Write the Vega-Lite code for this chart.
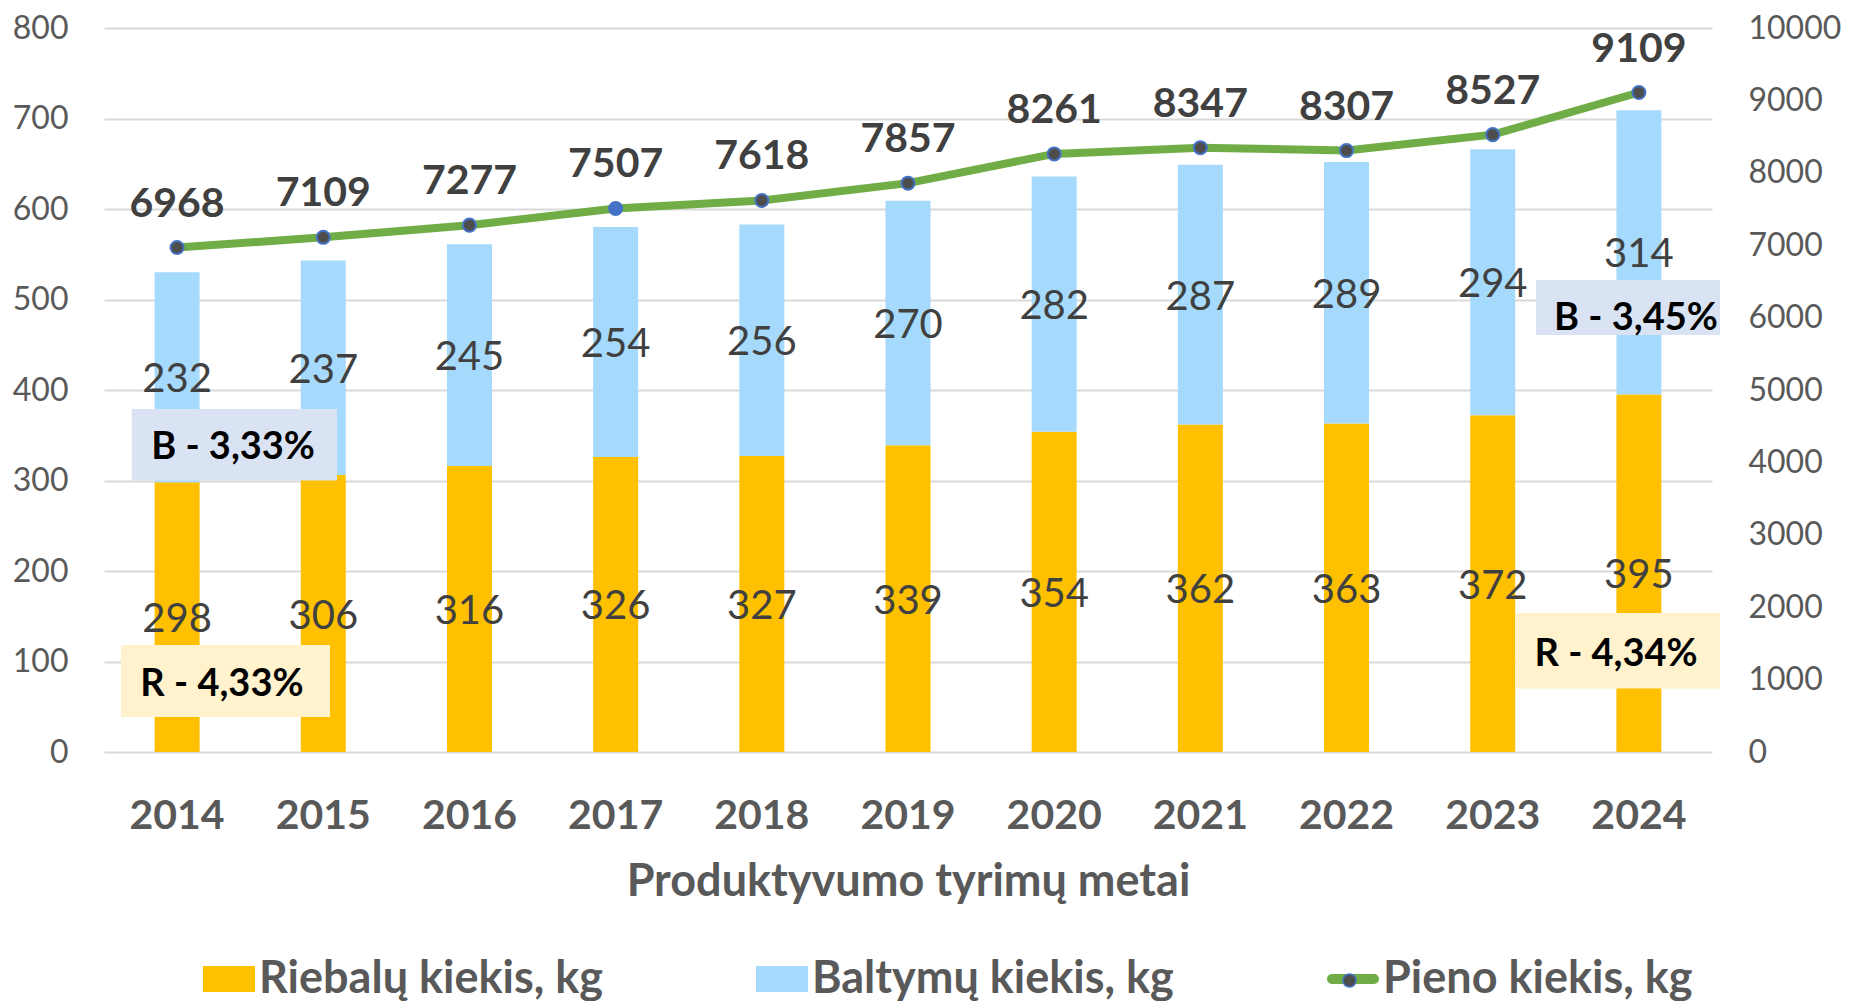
{
  "$schema": "https://vega.github.io/schema/vega-lite/v6.json",
  "width": 1608,
  "height": 724,
  "autosize": {"type": "none"},
  "padding": {"left": 104, "top": 28, "right": 138, "bottom": 249},
  "background": "white",
  "config": {"view": {"stroke": null}, "font": "Lato"},
  "datasets": {
    "parts": [
      {"year": "2014", "series": "Riebalų kiekis, kg", "value": 298},
      {"year": "2014", "series": "Baltymų kiekis, kg", "value": 232},
      {"year": "2015", "series": "Riebalų kiekis, kg", "value": 306},
      {"year": "2015", "series": "Baltymų kiekis, kg", "value": 237},
      {"year": "2016", "series": "Riebalų kiekis, kg", "value": 316},
      {"year": "2016", "series": "Baltymų kiekis, kg", "value": 245},
      {"year": "2017", "series": "Riebalų kiekis, kg", "value": 326},
      {"year": "2017", "series": "Baltymų kiekis, kg", "value": 254},
      {"year": "2018", "series": "Riebalų kiekis, kg", "value": 327},
      {"year": "2018", "series": "Baltymų kiekis, kg", "value": 256},
      {"year": "2019", "series": "Riebalų kiekis, kg", "value": 339},
      {"year": "2019", "series": "Baltymų kiekis, kg", "value": 270},
      {"year": "2020", "series": "Riebalų kiekis, kg", "value": 354},
      {"year": "2020", "series": "Baltymų kiekis, kg", "value": 282},
      {"year": "2021", "series": "Riebalų kiekis, kg", "value": 362},
      {"year": "2021", "series": "Baltymų kiekis, kg", "value": 287},
      {"year": "2022", "series": "Riebalų kiekis, kg", "value": 363},
      {"year": "2022", "series": "Baltymų kiekis, kg", "value": 289},
      {"year": "2023", "series": "Riebalų kiekis, kg", "value": 372},
      {"year": "2023", "series": "Baltymų kiekis, kg", "value": 294},
      {"year": "2024", "series": "Riebalų kiekis, kg", "value": 395},
      {"year": "2024", "series": "Baltymų kiekis, kg", "value": 314}
    ],
    "milk": [
      {"year": "2014", "value": 6968},
      {"year": "2015", "value": 7109},
      {"year": "2016", "value": 7277},
      {"year": "2017", "value": 7507},
      {"year": "2018", "value": 7618},
      {"year": "2019", "value": 7857},
      {"year": "2020", "value": 8261},
      {"year": "2021", "value": 8347},
      {"year": "2022", "value": 8307},
      {"year": "2023", "value": 8527},
      {"year": "2024", "value": 9109}
    ],
    "notes": [
      {"kind": "B", "label": "B - 3,33%", "x1": 0.19, "x2": 1.594, "y1": 300, "y2": 379, "tx": 0.883, "ty": 339},
      {"kind": "R", "label": "R - 4,33%", "x1": 0.116, "x2": 1.546, "y1": 38.7, "y2": 118.2, "tx": 0.807, "ty": 77.3},
      {"kind": "R", "label": "R - 4,34%", "x1": 9.657, "x2": 11.055, "y1": 70.2, "y2": 153.6, "tx": 10.344, "ty": 110.8},
      {"kind": "B", "label": "B - 3,45%", "x1": 9.796, "x2": 11.055, "y1": 460.8, "y2": 521.5, "tx": 10.48, "ty": 482}
    ]
  },
  "layer": [
    {
      "data": {"name": "parts"},
      "layer": [
        {
          "mark": {"type": "bar", "size": 45},
          "encoding": {
            "x": {
              "field": "year", "type": "nominal",
              "scale": {"paddingInner": 0, "paddingOuter": 0},
              "title": "Produktyvumo tyrimų metai",
              "axis": {
                "labelFont": "Lato", "labelFontSize": 41, "labelFontWeight": "bold", "labelColor": "#595959",
                "labelPadding": 44, "labelAngle": 0, "ticks": false, "domain": false,
                "titleFont": "Lato", "titleFontSize": 45, "titleFontWeight": "bold", "titleColor": "#595959",
                "titleY": 107, "titleBaseline": "top"
              }
            },
            "y": {
              "field": "value", "type": "quantitative", "stack": "zero",
              "scale": {"domain": [0, 800], "nice": false},
              "axis": {
                "title": null, "values": [0, 100, 200, 300, 400, 500, 600, 700, 800],
                "labelFont": "Lato", "labelFontSize": 32, "labelColor": "#595959", "labelPadding": 36,
                "ticks": false, "domain": false, "grid": true, "gridColor": "#D9D9D9", "gridWidth": 2
              }
            },
            "color": {
              "field": "series", "type": "nominal",
              "scale": {
                "domain": ["Riebalų kiekis, kg", "Baltymų kiekis, kg", "Pieno kiekis, kg"],
                "range": ["#FFC000", "#A6DAFC", "#70AD47"]
              },
              "legend": {
                "orient": "none", "legendX": 99, "legendY": 925, "direction": "horizontal", "columns": 3,
                "title": null, "padding": 0, "labelLimit": 0,
                "labelFont": "Lato", "labelFontSize": 45, "labelFontWeight": "bold", "labelColor": "#595959",
                "labelOffset": 4, "columnPadding": 152, "symbolSize": 2704,
                "symbolType": "M-1,-0.5H1V0.5H-1Z",
                "encode": {
                  "symbols": {
                    "update": {
                      "shape": {"signal": "datum.value === 'Pieno kiekis, kg' ? 'M-0.81,-0.19H0.81A0.19,0.19 0 0 1 0.81,0.19H-0.81A0.19,0.19 0 0 1 -0.81,-0.19Z' : 'M-1,-0.5H1V0.5H-1Z'"},
                      "fill": {"signal": "scale('color', datum.value)"},
                      "strokeWidth": {"value": 0},
                      "opacity": {"value": 1},
                      "fillOpacity": {"value": 1}
                    }
                  }
                }
              }
            },
            "order": {"field": "series", "sort": "descending"}
          }
        },
        {
          "transform": [
            {"stack": "value", "groupby": ["year"], "sort": [{"field": "series", "order": "descending"}], "as": ["v0", "v1"]},
            {"fold": ["v0", "v1"], "as": ["edge", "pos"]},
            {"aggregate": [{"op": "mean", "field": "pos", "as": "mid"}, {"op": "max", "field": "value", "as": "label"}], "groupby": ["year", "series"]}
          ],
          "mark": {"type": "text", "font": "Lato", "fontSize": 40, "color": "#404040", "baseline": "middle", "align": "center", "dy": 3},
          "encoding": {
            "x": {"field": "year", "type": "nominal"},
            "y": {"field": "mid", "type": "quantitative"},
            "text": {"field": "label", "type": "quantitative"}
          }
        }
      ]
    },
    {
      "data": {"name": "notes"},
      "layer": [
        {
          "mark": {"type": "rect"},
          "encoding": {
            "x": {"field": "x1", "type": "quantitative", "scale": {"domain": [0, 11], "nice": false, "zero": false}, "axis": null},
            "x2": {"field": "x2"},
            "y": {"field": "y1", "type": "quantitative", "scale": {"domain": [0, 800], "nice": false}, "axis": null},
            "y2": {"field": "y2"},
            "fill": {"field": "kind", "type": "nominal", "scale": {"domain": ["B", "R"], "range": ["#DAE3F3", "#FFF2CC"]}, "legend": null}
          }
        },
        {
          "mark": {"type": "text", "font": "Lato", "fontSize": 38, "fontWeight": "bold", "color": "#000000", "baseline": "middle", "align": "center", "dy": 3},
          "encoding": {
            "x": {"field": "tx", "type": "quantitative"},
            "y": {"field": "ty", "type": "quantitative"},
            "text": {"field": "label", "type": "nominal"}
          }
        }
      ]
    },
    {
      "data": {"name": "milk"},
      "layer": [
        {
          "mark": {"type": "line", "strokeWidth": 8},
          "encoding": {
            "x": {"field": "year", "type": "nominal", "axis": null},
            "y": {
              "field": "value", "type": "quantitative",
              "scale": {"domain": [0, 10000], "nice": false},
              "axis": {
                "orient": "right", "title": null, "format": "d",
                "values": [0, 1000, 2000, 3000, 4000, 5000, 6000, 7000, 8000, 9000, 10000],
                "labelFont": "Lato", "labelFontSize": 32, "labelColor": "#595959", "labelPadding": 36,
                "ticks": false, "domain": false, "grid": false
              }
            },
            "color": {"datum": "Pieno kiekis, kg"}
          }
        },
        {
          "mark": {"type": "point", "filled": true, "size": 170, "stroke": "#4472C4", "strokeWidth": 2, "opacity": 1},
          "encoding": {
            "x": {"field": "year", "type": "nominal"},
            "y": {"field": "value", "type": "quantitative"},
            "fill": {"condition": {"test": "datum.year === '2017'", "value": "#4472C4"}, "value": "#4D4D4D"},
            "shape": {
              "datum": "Pieno kiekis, kg",
              "scale": {"range": ["circle"]},
              "legend": {
                "orient": "none", "legendX": 1238, "legendY": 945, "title": null, "padding": 0,
                "symbolSize": 170, "labelOpacity": 0, "labelFontSize": 1, "labelLimit": 1,
                "encode": {
                  "symbols": {
                    "update": {
                      "fill": {"value": "#4D4D4D"},
                      "stroke": {"value": "#4472C4"},
                      "strokeWidth": {"value": 2},
                      "opacity": {"value": 1},
                      "fillOpacity": {"value": 1},
                      "size": {"value": 170}
                    }
                  }
                }
              }
            }
          }
        },
        {
          "mark": {"type": "text", "font": "Lato", "fontSize": 41, "fontWeight": "bold", "color": "#404040", "baseline": "middle", "align": "center", "dy": -43},
          "encoding": {
            "x": {"field": "year", "type": "nominal"},
            "y": {"field": "value", "type": "quantitative"},
            "text": {"field": "value", "type": "quantitative", "format": "d"}
          }
        }
      ]
    }
  ],
  "resolve": {"scale": {"x": "independent", "y": "independent"}}
}
